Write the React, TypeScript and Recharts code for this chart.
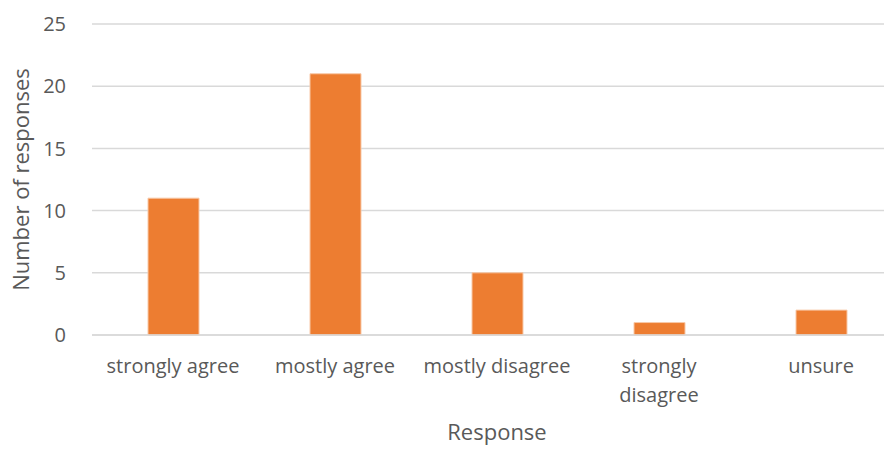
import React from "react";
import { BarChart, Bar, XAxis, YAxis, CartesianGrid } from "recharts";

const categories = ["strongly agree", "mostly agree", "mostly disagree", "strongly disagree", "unsure"];
const responses = [11, 21, 5, 1, 2];
const yTicks = [0, 5, 10, 15, 20, 25];

const data = categories.map((c, i) => ({ category: c, value: responses[i] }));

const FONT = "'Open Sans', 'Liberation Sans', sans-serif";
const TEXT = "#595959";

const XTick = (props: any) => {
  const { x, y, payload } = props;
  const label: string = payload.value;
  const lines = label.length > 15 ? label.split(" ") : [label];
  return (
    <g>
      {lines.map((l, i) => (
        <text key={i} x={x} y={y + 25 + i * 29} textAnchor="middle" fill={TEXT} fontSize={20} fontFamily={FONT} dominantBaseline="middle">
          {l}
        </text>
      ))}
    </g>
  );
};

export default function App() {
  return (
    <div style={{ position: "absolute", left: 0, top: 0, width: 884, height: 449, overflow: "hidden", background: "#fff" }}>
      <BarChart width={920} height={449} data={data} margin={{ top: 24, right: 18, bottom: 0, left: 0 }}>
        <CartesianGrid vertical={false} stroke="#d9d9d9" strokeWidth={1.5} />
        <XAxis
          dataKey="category"
          axisLine={{ stroke: "#d9d9d9", strokeWidth: 1.5 }}
          tickLine={false}
          tick={<XTick />}
          height={114}
          interval={0}
          label={{ value: "Response", position: "insideBottom", offset: 9, fill: TEXT, fontSize: 22, fontFamily: FONT }}
        />
        <YAxis
          domain={[0, 25]}
          ticks={yTicks}
          width={92}
          axisLine={false}
          tickLine={false}
          tick={{ fill: TEXT, fontSize: 20, fontFamily: FONT }}
          tickMargin={20}
          label={{ value: "Number of responses", angle: -90, position: "insideLeft", offset: 21, fill: TEXT, fontSize: 22, fontFamily: FONT, style: { textAnchor: "middle" } }}
        />
        <Bar dataKey="value" fill="#ED7D31" stroke="#f8c9a8" strokeWidth={1} barSize={51} isAnimationActive={false} />
      </BarChart>
    </div>
  );
}
